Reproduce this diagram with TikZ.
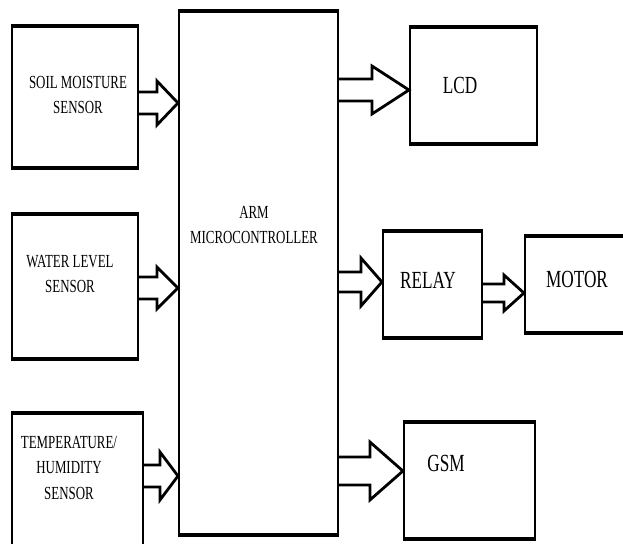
\documentclass[tikz,border=0pt]{standalone}
\usepackage{fontspec}
\usepackage{tikz}
\usetikzlibrary{calc, fit}

\newfontfamily\blockfont[FakeStretch=0.7]{Liberation Serif}

\tikzset{
	blk/.style={draw, line width=1.2pt, inner sep=0pt},
	lbl/.style={font=\blockfont\fontsize{10.5}{14.7}\selectfont, align=center, inner sep=0pt},
	biglbl/.style={font=\blockfont\fontsize{14}{16}\selectfont, inner sep=0pt},
	fat/.style={draw, line width=1.6pt, line join=miter}
}

% hollow block arrow: source, target, tip y, head length, shaft half width, head half width
\newcommand{\fatarrow}[6]{%
	\draw[fat] ($(#1.east |- 0,#3)+(0,-#5)$) -- ($(#2.west |- 0,#3)+(-#4,-#5)$)
	-- ($(#2.west |- 0,#3)+(-#4,-#6)$) -- (#2.west |- 0,#3)
	-- ($(#2.west |- 0,#3)+(-#4,#6)$) -- ($(#2.west |- 0,#3)+(-#4,#5)$)
	-- ($(#1.east |- 0,#3)+(0,#5)$);}

\begin{document}
\begin{tikzpicture}[x=0.02cm, y=-0.02cm]
		\useasboundingbox (0,0) rectangle (623,544);
		\clip (0,0) rectangle (623,544);
		
		% Blocks
		\node[blk, fit={(12,27) (138,167)}] (soil) {};
		\node[blk, fit={(12,215) (138,358)}] (water) {};
		\node[blk, fit={(12,414) (143,560)}] (temp) {};
		\node[blk, fit={(179,12) (338,534)}] (arm) {};
		\node[blk, fit={(410,28) (537,143)}] (lcd) {};
		\node[blk, fit={(383,232) (482,337)}] (relay) {};
		\node[blk, fit={(525,237) (640,332)}] (motor) {};
		\node[blk, fit={(404,423) (535,538)}] (gsm) {};
		
		% Heavier top and bottom edges
		\foreach \n in {soil,water,temp,arm,lcd,relay,motor,gsm}
		\draw[line width=2.2pt] (\n.north west) -- (\n.north east) (\n.south west) -- (\n.south east);
		
		% Labels
		\node[lbl] (soiltxt) at (78,95) {SOIL MOISTURE\\SENSOR};
		\node[lbl] (watertxt) at (70,274) {WATER LEVEL\\SENSOR};
		\node[lbl] (temptxt) at (69,468) {TEMPERATURE/\\HUMIDITY\\SENSOR};
		\node[lbl] (armtxt) at (254,225) {ARM\\MICROCONTROLLER};
		\node[biglbl] (lcdtxt) at (460,85) {LCD};
		\node[biglbl] (relaytxt) at (428,280) {RELAY};
		\node[biglbl] (motortxt) at (577,279) {MOTOR};
		\node[biglbl] (gsmtxt) at (446,463) {GSM};
		
		% Arrows
		\fatarrow{soil}{arm}{103}{21}{11}{22}
		\fatarrow{water}{arm}{288}{21}{11}{21}
		\fatarrow{temp}{arm}{476}{18}{11}{24}
		\fatarrow{arm}{lcd}{90}{37}{11}{24}
		\fatarrow{arm}{relay}{282}{21}{10}{24}
		\fatarrow{relay}{motor}{293}{20}{9}{18}
		\fatarrow{arm}{gsm}{471}{33}{14}{29}
	\end{tikzpicture}
\end{document}
